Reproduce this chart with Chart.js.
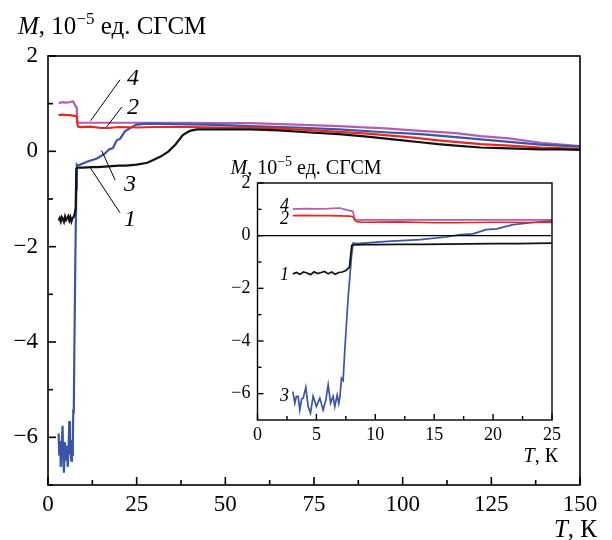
<!DOCTYPE html>
<html><head><meta charset="utf-8">
<script src="https://cdn.jsdelivr.net/npm/chart.js@4.4.1/dist/chart.umd.min.js"></script>
<style>
html,body{margin:0;padding:0;background:#fff;}
#wrap{position:relative;width:612px;height:540px;background:#fff;overflow:hidden;}
#main{position:absolute;left:0;top:0;}
#inset{position:absolute;left:200px;top:150px;}
</style></head><body>
<div id="wrap">
<canvas id="main" width="612" height="540" style="width:612px;height:540px"></canvas>
<canvas id="inset" width="380" height="315" style="width:380px;height:315px"></canvas>
</div>
<script>
// ---- data (T in K, M in 1e-5 emu) ----
const T1 = [3,3.3,3.6,3.9,4.2,4.5,4.8,5.1,5.4,5.7,6.0,6.3,6.6,6.9,7.2,7.5,7.8,8.0,8.2,9,10,12,14,16,18,20,22,25,28,30,32,34,36,38,40,42,45,50,57,65,75,82,90,100,105,110,115,122,130,139,145,150];
const M1 = [-1.45,-1.40,-1.47,-1.38,-1.42,-1.48,-1.37,-1.44,-1.40,-1.36,-1.45,-1.38,-1.47,-1.40,-1.38,-1.32,-1.20,-0.36,-0.35,-0.34,-0.34,-0.33,-0.33,-0.32,-0.31,-0.30,-0.30,-0.28,-0.24,-0.17,-0.10,0.00,0.15,0.34,0.43,0.46,0.46,0.46,0.46,0.44,0.39,0.36,0.31,0.23,0.19,0.15,0.12,0.08,0.06,0.04,0.04,0.03];
const T2 = [3,4,5,6,7,7.8,8.1,8.3,8.5,9,12,15,17,20,25,30,40,50,57,65,75,82,90,100,105,110,122,130,139,150];
const M2 = [0.76,0.77,0.76,0.76,0.75,0.74,0.72,0.56,0.52,0.51,0.52,0.49,0.49,0.51,0.50,0.51,0.51,0.50,0.50,0.48,0.44,0.41,0.37,0.31,0.27,0.23,0.15,0.12,0.08,0.05];
const T3 = [3.0,3.17,3.3,3.45,3.59,3.75,3.88,4.1,4.3,4.5,4.72,5.0,5.29,5.57,5.8,6.0,6.2,6.42,6.56,6.76,6.9,7.0,7.13,7.27,7.41,7.7,7.98,8.12,8.4,9,11,13.8,16,17.2,18.3,19.4,20.3,21.7,23.4,25,28,35,45,57,70,82,95,105,115,122,130,139,150];
const M3 = [-5.92,-6.36,-6.1,-6.1,-6.62,-6.2,-6.17,-5.76,-6.49,-6.74,-6.1,-6.49,-6.17,-6.62,-6.24,-5.66,-6.36,-6.1,-6.49,-6.05,-6.37,-6.1,-5.41,-5.5,-4.34,-2.31,-0.79,-0.28,-0.3,-0.28,-0.22,-0.15,-0.05,0.04,0.07,0.23,0.26,0.42,0.5,0.56,0.58,0.57,0.56,0.53,0.5,0.46,0.40,0.36,0.30,0.25,0.20,0.14,0.10];
const T4 = [3,4,5,6,7,7.4,7.8,8.1,8.26,8.5,10,15,20,25,30,40,50,57,70,82,95,105,115,122,130,139,150];
const M4 = [1.01,1.03,1.02,1.03,1.05,1.0,0.95,0.92,0.62,0.6,0.6,0.6,0.6,0.6,0.6,0.6,0.59,0.59,0.56,0.53,0.48,0.43,0.38,0.32,0.27,0.18,0.11];

const seriesLabels = ['1','2','3','4'];
const seriesColors = ['#111111','#e8281f','#3a54a8','#b35cb3'];

const mainXTicks = [0,25,50,75,100,125,150];
const mainXMinor = [12.5,37.5,62.5,87.5,112.5,137.5];
const mainYTicks = [-6,-4,-2,0,2];
const mainYMinor = [-7,-5,-3,-1,1];
const insetXTicks = [0,5,10,15,20,25];
const insetXMinor = [2.5,7.5,12.5,17.5,22.5];
const insetYTicks = [-6,-4,-2,0,2];
const insetYMinor = [-5,-3,-1,1];

// curve labels (number, T, M) and leader lines (T1,M1 -> T2,M2)
const mainCurveLabels = [['4',24.0,1.52],['2',24.0,0.92],['3',23.1,-0.69],['1',23.1,-1.44]];
const mainLeaders = [[20.3,1.50,12.0,0.64],[20.8,0.93,16.5,0.51],[18.9,-0.60,15.1,0.02],[20.3,-1.29,11.8,-0.33]];
const insetCurveLabels = [['4',2.3,1.11],['2',2.3,0.62],['1',2.3,-1.5],['3',2.3,-6.1]];

const SERIF = '"Liberation Serif", "DejaVu Serif", serif';
const pairs = (t,m) => t.map((v,i)=>({x:v,y:m[i]}));
const allT = [T1,T2,T3,T4], allM = [M1,M2,M3,M4];
const fmt = v => (v<0 ? '\u2212'+Math.abs(v) : String(v));

function makeDatasets(lw){
  return allT.map((t,i)=>({label:seriesLabels[i],data:pairs(t,allM[i]),borderColor:seriesColors[i],
    borderWidth:lw,pointRadius:0,tension:0,fill:false}));
}

function drawYTitle(ctx,x,y,size){
  const parts=[['M','italic '+size+'px '+SERIF,0],[', 10',size+'px '+SERIF,0],
    ['\u22125',Math.round(size*0.68)+'px '+SERIF,-size*0.42],[' ед. СГСМ',size+'px '+SERIF,0]];
  ctx.textAlign='left';ctx.textBaseline='alphabetic';ctx.fillStyle='#000';
  let cx=x;
  parts.forEach(([t,f,dy])=>{ctx.font=f;ctx.fillText(t,cx,y+dy);cx+=ctx.measureText(t).width;});
}
function drawXTitle(ctx,xr,y,size){
  ctx.textBaseline='alphabetic';ctx.fillStyle='#000';
  ctx.font=size+'px '+SERIF;
  const w2=ctx.measureText(', К').width;
  ctx.textAlign='right';ctx.fillText(', К',xr,y);
  ctx.font='italic '+size+'px '+SERIF;ctx.fillText('T',xr-w2,y);
}

const decor = {
  id:'decor',
  afterDraw(chart,args,o){
    const {ctx,chartArea:a,scales:{x,y}}=chart;
    ctx.save();
    ctx.strokeStyle='#000';ctx.lineWidth=o.lw;
    ctx.strokeRect(a.left,a.top,a.right-a.left,a.bottom-a.top);
    const ln=(x1,y1,x2,y2)=>{ctx.beginPath();ctx.moveTo(x1,y1);ctx.lineTo(x2,y2);ctx.stroke();};
    o.xMajor.forEach(v=>{const p=x.getPixelForValue(v);ln(p,a.bottom,p,a.bottom-o.major);});
    o.xMinor.forEach(v=>{const p=x.getPixelForValue(v);ln(p,a.bottom,p,a.bottom-o.minor);});
    o.yMajor.forEach(v=>{const p=y.getPixelForValue(v);ln(a.left,p,a.left+o.major,p);});
    o.yMinor.forEach(v=>{const p=y.getPixelForValue(v);ln(a.left,p,a.left+o.minor,p);});
    if(o.zeroLine){const p=y.getPixelForValue(0);ctx.lineWidth=o.lw;ln(a.left,p,a.right,p);}
    ctx.lineWidth=1;
    (o.leaders||[]).forEach(l=>ln(x.getPixelForValue(l[0]),y.getPixelForValue(l[1]),x.getPixelForValue(l[2]),y.getPixelForValue(l[3])));
    ctx.fillStyle='#000';ctx.font='italic '+o.labelSize+'px '+SERIF;ctx.textAlign='center';ctx.textBaseline='middle';
    o.labels.forEach(([t,tx,my])=>ctx.fillText(t,x.getPixelForValue(tx),y.getPixelForValue(my)));
    drawYTitle(ctx,a.left+o.ytDx,a.top+o.ytDy,o.titleSize);
    drawXTitle(ctx,a.right+o.xtDx,a.bottom+o.xtDy,o.xTitleSize);
    ctx.restore();
  }
};

function scaleOpts(min,max,ticksArr,size,pad,fixed,axis){
  return {type:'linear',min:min,max:max,
    afterBuildTicks:s=>{s.ticks=ticksArr.map(v=>({value:v}));},
    afterFit:s=>{ if(axis==='x') s.height=fixed; else s.width=fixed; },
    grid:{display:false,drawTicks:false},
    border:{display:false},
    ticks:{color:'#000',padding:pad,maxRotation:0,autoSkip:false,font:{family:SERIF,size:size},callback:v=>fmt(v)}};
}

new Chart(document.getElementById('main'),{
  type:'line',
  data:{datasets:makeDatasets(2.2)},
  options:{responsive:false,animation:false,devicePixelRatio:1,
    layout:{padding:{top:56,right:32,left:0,bottom:0}},
    plugins:{legend:{display:false},tooltip:{enabled:false},
      decor:{lw:1.6,major:8,minor:5,xMajor:mainXTicks,xMinor:mainXMinor,yMajor:mainYTicks,yMinor:mainYMinor,
        leaders:mainLeaders,labels:mainCurveLabels,labelSize:24,titleSize:25,xTitleSize:25,ytDx:-30,ytDy:-22,xtDx:17,xtDy:52}},
    scales:{x:scaleOpts(0,150,mainXTicks,23,6,55,'x'),y:scaleOpts(-7,2,mainYTicks,23,10,48,'y')}
  },
  plugins:[decor]
});

new Chart(document.getElementById('inset'),{
  type:'line',
  data:{datasets:makeDatasets(1.7)},
  options:{responsive:false,animation:false,devicePixelRatio:1,
    layout:{padding:{top:33,right:28,left:0,bottom:0}},
    plugins:{legend:{display:false},tooltip:{enabled:false},
      decor:{lw:1.4,major:6,minor:4,xMajor:insetXTicks,xMinor:insetXMinor,yMajor:insetYTicks,yMinor:insetYMinor,zeroLine:true,
        leaders:[],labels:insetCurveLabels,labelSize:18,titleSize:20,xTitleSize:20,ytDx:-27,ytDy:-9,xtDx:6,xtDy:42}},
    scales:{x:scaleOpts(0,25,insetXTicks,18,4,45,'x'),y:scaleOpts(-7,2,insetYTicks,18,7,57.5,'y')}
  },
  plugins:[decor]
});
</script>
</body></html>
